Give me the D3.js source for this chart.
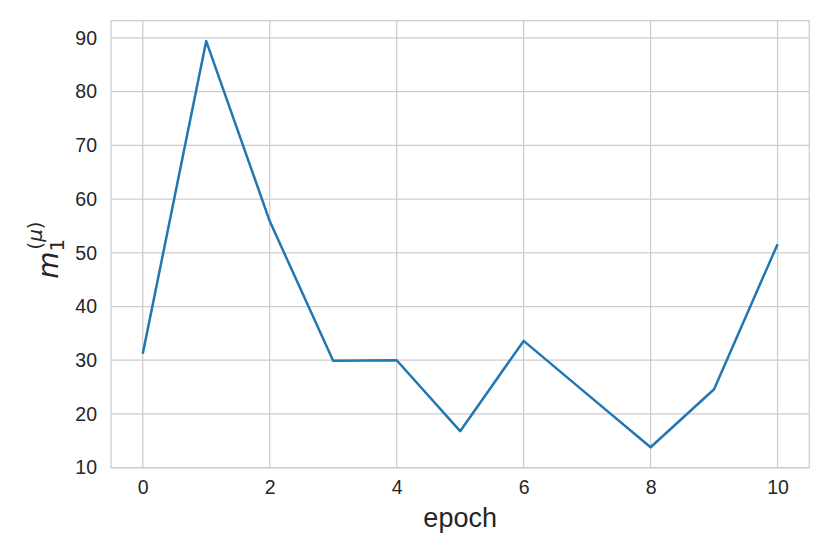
<!DOCTYPE html>
<html>
<head>
<meta charset="utf-8">
<script src="https://cdn.jsdelivr.net/npm/d3@7"></script>
<style>
  html, body { margin: 0; padding: 0; background: #fff; }
  svg { display: block; }
</style>
</head>
<body>
<svg id="chart" width="830" height="554"></svg>
<script>
const epochs = [0, 1, 2, 3, 4, 5, 6, 7, 8, 9, 10];
const values = [31.2, 89.4, 55.9, 29.9, 30.0, 16.8, 33.6, 23.7, 13.8, 24.6, 51.6];
const xTicks = [0, 2, 4, 6, 8, 10];
const yTicks = [10, 20, 30, 40, 50, 60, 70, 80, 90];

const W = 830, H = 554;
const m = { left: 111, top: 20.7, right: 830 - 809.3, bottom: 554 - 467.7 };
const iw = W - m.left - m.right, ih = H - m.top - m.bottom;

const svg = d3.select("#chart");
const g = svg.append("g").attr("transform", `translate(${m.left},${m.top})`);

const x = d3.scaleLinear().domain([-0.5, 10.5]).range([0, iw]);
const y = d3.scaleLinear().domain([10, 93.2]).range([ih, 0]);

const grid = "#cccccc", txt = "#262626";

// gridlines
g.append("g").selectAll("line").data(xTicks).join("line")
  .attr("x1", d => x(d)).attr("x2", d => x(d))
  .attr("y1", 0).attr("y2", ih)
  .attr("stroke", grid).attr("stroke-width", 1.25);
g.append("g").selectAll("line").data(yTicks).join("line")
  .attr("x1", 0).attr("x2", iw)
  .attr("y1", d => y(d)).attr("y2", d => y(d))
  .attr("stroke", grid).attr("stroke-width", 1.25);

// frame
g.append("rect").attr("x", 0).attr("y", 0).attr("width", iw).attr("height", ih)
  .attr("fill", "none").attr("stroke", grid).attr("stroke-width", 1.25);

// axes (labels only)
const xAxis = g.append("g").attr("transform", `translate(0,${ih})`)
  .call(d3.axisBottom(x).tickValues(xTicks).tickSize(0).tickPadding(12).tickFormat(d3.format("d")));
const yAxis = g.append("g")
  .call(d3.axisLeft(y).tickValues(yTicks).tickSize(0).tickPadding(14).tickFormat(d3.format("d")));
[xAxis, yAxis].forEach(a => {
  a.select(".domain").remove();
  a.selectAll("text").attr("fill", txt)
    .style("font-family", "'Liberation Sans', Arial, sans-serif").style("font-size", "19.5px");
});

// line
g.append("path").datum(epochs.map((e, i) => [e, values[i]]))
  .attr("fill", "none").attr("stroke", "#1f77b4").attr("stroke-width", 2.5)
  .attr("stroke-linejoin", "round").attr("stroke-linecap", "butt")
  .attr("d", d3.line().x(d => x(d[0])).y(d => y(d[1])));

// x label
svg.append("text").attr("x", m.left + iw / 2).attr("y", 527)
  .attr("text-anchor", "middle").attr("fill", txt)
  .style("font-family", "'Liberation Sans', Arial, sans-serif").style("font-size", "27px")
  .text("epoch");

// y label m_1^{(mu)}
const yl = svg.append("text")
  .attr("transform", `translate(58,250) rotate(-90)`)
  .attr("text-anchor", "middle").attr("fill", txt)
  .style("font-family", "'DejaVu Sans', sans-serif").style("font-size", "28px");
yl.append("tspan").style("font-style", "italic").text("m");
yl.append("tspan").attr("dy", 6).style("font-size", "20px").text("1");
yl.append("tspan").attr("dx", -11).attr("dy", -22).style("font-size", "20px").text("(");
yl.append("tspan").style("font-size", "20px").style("font-style", "italic").text("μ");
yl.append("tspan").style("font-size", "20px").text(")");
</script>
</body>
</html>
